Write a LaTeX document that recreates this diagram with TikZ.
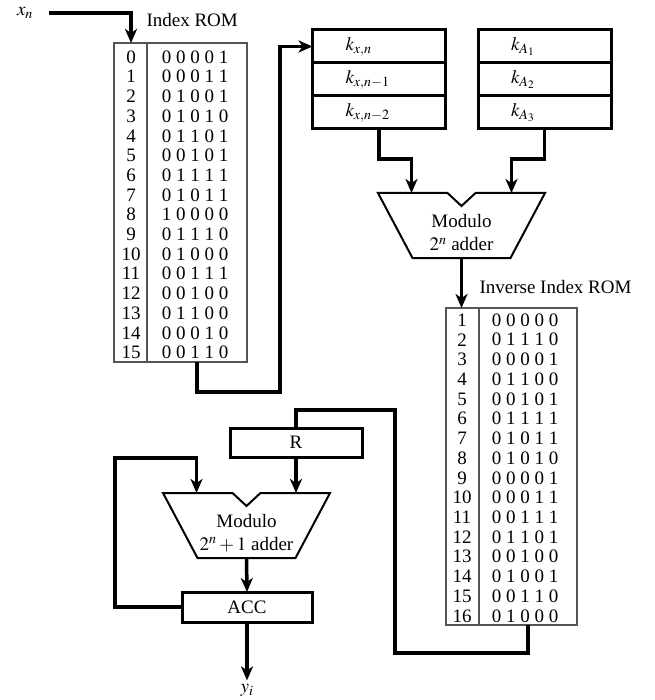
\documentclass[tikz,border=0pt]{standalone}
\usepackage{mathptmx}
\usepackage{fontspec}
\setmainfont{Liberation Serif}
\usetikzlibrary{arrows.meta,positioning}
\definecolor{romline}{HTML}{555555}

\begin{document}
\begin{tikzpicture}[
    x=1pt, y=-1pt,
    font=\fontsize{19}{22}\selectfont,
    bus/.style={line width=3.5pt},
    flow/.style={bus, -{Stealth[length=14pt,width=12pt,inset=4pt]}},
    reg/.style={draw, line width=3pt, outer sep=0pt, minimum height=33pt},
    regtext/.style={reg, text width=67pt, inner xsep=33pt, align=left},
    rom/.style={draw=romline, line width=1.1pt, outer sep=0pt},
    addtext/.style={align=center, font=\fontsize{19}{23}\selectfont},
    adder/.pic={
        \draw[line width=2pt]
            (-83.5,0) -- (-14,0) -- (0,13) -- (14,0) -- (83.5,0)
            -- (49,65) -- (-49,65) -- cycle;
        \coordinate (-in1) at (-50,0);
        \coordinate (-in2) at (50,0);
        \coordinate (-out) at (0,65);
    }
]
\useasboundingbox (0,0) rectangle (654,700);

\node (xn) at (25,13) {$x_n$};
\node[anchor=west] (romtitle) at (143,20) {Index ROM};
\node[rom, minimum width=133pt, minimum height=319pt] (irom) at (180.5,202.5) {};
\draw[romline, line width=1.1pt] ([xshift=33pt]irom.north west) -- ([xshift=33pt]irom.south west);
\foreach \val [count=\i from 0] in {
    0 0 0 0 1, 0 0 0 1 1, 0 1 0 0 1, 0 1 0 1 0,
    0 1 1 0 1, 0 0 1 0 1, 0 1 1 1 1, 0 1 0 1 1,
    1 0 0 0 0, 0 1 1 1 0, 0 1 0 0 0, 0 0 1 1 1,
    0 0 1 0 0, 0 1 1 0 0, 0 0 0 1 0, 0 0 1 1 0
}{
    \node (ia\i) at (131,{57+19.7*\i}) {\i};
    \node (ib\i) at (195,{57+19.7*\i}) {\val};
}

\node[regtext] (kx1) at (379,79.5) {$k_{x,n-1}$};
\node[regtext, above=0pt of kx1] (kx0) {$k_{x,n}$};
\node[regtext, below=0pt of kx1] (kx2) {$k_{x,n-2}$};
\node[regtext] (ka2) at (544.5,79.5) {$k_{A_2}$};
\node[regtext, above=0pt of ka2] (ka1) {$k_{A_1}$};
\node[regtext, below=0pt of ka2] (ka3) {$k_{A_3}$};

\pic (a1) at (461.5,193) {adder};
\node[addtext] (modA) at (461.5,233) {Modulo\\$2^n$ adder};

\node[anchor=west] (ivtitle) at (476,287) {Inverse Index ROM};
\node[rom, minimum width=131pt, minimum height=317pt] (ivrom) at (511.5,466.5) {};
\draw[romline, line width=1.1pt] ([xshift=33pt]ivrom.north west) -- ([xshift=33pt]ivrom.south west);
\foreach \val [count=\i from 1] in {
    0 0 0 0 0, 0 1 1 1 0, 0 0 0 0 1, 0 1 1 0 0,
    0 0 1 0 1, 0 1 1 1 1, 0 1 0 1 1, 0 1 0 1 0,
    0 0 0 0 1, 0 0 0 1 1, 0 0 1 1 1, 0 1 1 0 1,
    0 0 1 0 0, 0 1 0 0 1, 0 0 1 1 0, 0 1 0 0 0
}{
    \node (va\i) at (462,{320+19.73*(\i-1)}) {\i};
    \node (vb\i) at (525,{320+19.73*(\i-1)}) {\val};
}

\node[reg, minimum width=132pt, minimum height=29pt] (R) at (296,442.5) {R};
\pic (a2) at (246.5,493) {adder};
\node[addtext] (modB) at (246.5,533) {Modulo\\$2^n+1$ adder};
\node[reg, minimum width=130pt, minimum height=30pt] (acc) at (247,607) {ACC};
\node (yi) at (247,690) {$y_i$};

\draw[flow] ([xshift=12pt]xn.east) -| ([xshift=17pt]irom.north west);
\draw[flow] ([xshift=16.5pt]irom.south) |- ++(83,30) |- (kx0.west);
\draw[flow] (kx2.south) -- ++(0,30) -| (a1-in1);
\draw[flow] (ka3.south) -- ++(0,30) -| (a1-in2);
\draw[flow] (a1-out) -- (a1-out |- ivrom.north);
\draw[bus] ([xshift=16.5pt]ivrom.south) |- ++(-133,28) |- ([yshift=18pt]R.north) -- (R.north);
\draw[flow] (R.south) -- (R.south |- a2-in2);
\draw[flow] (acc.west) -| ++(-67,-149) -| (a2-in1);
\draw[flow] (a2-out) -- (acc.north);
\draw[flow] (acc.south) -- (yi);

\end{tikzpicture}
\end{document}
